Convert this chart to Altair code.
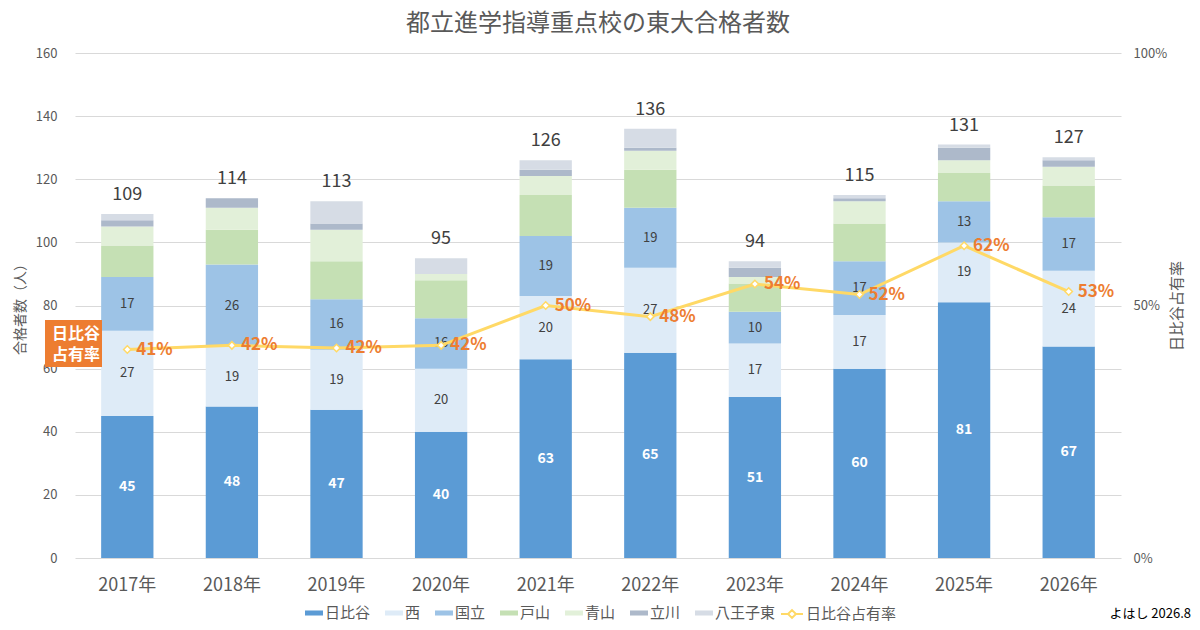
import altair as alt
import pandas as pd

FONT = "Noto Sans CJK JP"

years = ["2017年", "2018年", "2019年", "2020年", "2021年",
         "2022年", "2023年", "2024年", "2025年", "2026年"]
schools = ["日比谷", "西", "国立", "戸山", "青山", "立川", "八王子東"]
school_colors = ["#5B9BD5", "#DEEBF7", "#9DC3E6", "#C5E0B4",
                 "#E2F0D9", "#ADB9CA", "#D6DCE5"]

hibiya = [45, 48, 47, 40, 63, 65, 51, 60, 81, 67]
nishi = [27, 19, 19, 20, 20, 27, 17, 17, 19, 24]
kunitachi = [17, 26, 16, 16, 19, 19, 10, 17, 13, 17]
toyama = [10, 11, 12, 12, 13, 12, 9, 12, 9, 10]
aoyama = [6, 7, 10, 2, 6, 6, 2, 7, 4, 6]
tachikawa = [2, 3, 2, 0, 2, 1, 3, 1, 4, 2]
hachioji = [2, 0, 7, 5, 3, 6, 2, 1, 1, 1]

series = [hibiya, nishi, kunitachi, toyama, aoyama, tachikawa, hachioji]
ratio_name = "日比谷占有率"

rows = []
for i, yr in enumerate(years):
    for j, (s, arr) in enumerate(zip(schools, series)):
        rows.append({"year": yr, "school": s, "idx": j, "value": arr[i]})
df = pd.DataFrame(rows)

totals = [sum(arr[i] for arr in series) for i in range(len(years))]
tot_df = pd.DataFrame({"year": years, "total": totals})
ratio_df = pd.DataFrame({
    "year": years,
    "ratio": [h / t for h, t in zip(hibiya, totals)],
    "series": ratio_name,
})

GRAY = "#595959"
DARK = "#404040"

x_enc = alt.X(
    "year:N", sort=years,
    scale=alt.Scale(paddingInner=0.5, paddingOuter=0.25),
    axis=alt.Axis(title=None, labelFontSize=18, labelColor=GRAY, labelFont=FONT,
                  labelPadding=18, domain=False, ticks=False, labelAngle=0),
)

left_scale = alt.Scale(domain=[0, 160])
left_axis = alt.Axis(title="合格者数（人）", values=list(range(0, 161, 20)),
                     labelFontSize=13, labelColor=GRAY, labelFont=FONT,
                     labelPadding=18, titleFontSize=14, titleColor=GRAY,
                     titleFont=FONT, titleFontWeight="normal", titlePadding=8,
                     domain=False, ticks=False, grid=True,
                     gridColor="#D9D9D9", gridWidth=1)

right_scale = alt.Scale(domain=[0, 1])
right_axis = alt.Axis(orient="right", format="%", values=[0, 0.5, 1],
                      title=ratio_name, titleAngle=270, labelFontSize=13,
                      labelColor=GRAY, labelFont=FONT, labelPadding=12,
                      titleFontSize=15, titleColor=GRAY, titleFont=FONT,
                      titleFontWeight="normal", titlePadding=18,
                      domain=False, ticks=False, grid=False)

bars = alt.Chart(df).mark_bar().encode(
    x=x_enc,
    y=alt.Y("value:Q", stack="zero", scale=left_scale, axis=left_axis),
    color=alt.Color("school:N", scale=alt.Scale(domain=schools, range=school_colors),
                    legend=alt.Legend(title=None, orient="none", direction="horizontal",
                                      legendX=230, legendY=551,
                                      symbolType="M-1,-0.28H1V0.28H-1Z", symbolSize=324,
                                      symbolStrokeWidth=0, labelFontSize=15,
                                      labelColor=GRAY, labelFont=FONT, labelOffset=2,
                                      columnPadding=14, padding=0)),
    order=alt.Order("idx:Q", sort="ascending"),
)

seg = alt.Chart(df).transform_stack(
    stack="value", groupby=["year"], sort=[alt.SortField("idx", order="ascending")],
    as_=["v0", "v1"],
).transform_calculate(mid="(datum.v0 + datum.v1) / 2")

seg_white = seg.transform_filter("datum.idx == 0").mark_text(
    color="white", fontWeight="bold", fontSize=14, font=FONT, baseline="middle",
).encode(x=x_enc, y=alt.Y("mid:Q", scale=left_scale, axis=left_axis), text="value:Q")

seg_dark = seg.transform_filter("datum.idx == 1 || datum.idx == 2").mark_text(
    color=DARK, fontSize=13, font=FONT, baseline="middle",
).encode(x=x_enc, y=alt.Y("mid:Q", scale=left_scale, axis=left_axis), text="value:Q")

tot_text = alt.Chart(tot_df).mark_text(
    color=DARK, fontSize=18, font=FONT, baseline="bottom", dy=-10,
).encode(x=x_enc, y=alt.Y("total:Q", scale=left_scale, axis=left_axis), text="total:Q")

one = pd.DataFrame({"k": [0]})
box = alt.Chart(one).mark_rect(color="#ED7D31").encode(
    x=alt.value(-30), x2=alt.value(27), y=alt.value(267), y2=alt.value(314))
box_t1 = alt.Chart(one).mark_text(
    text="日比谷", color="white", fontSize=16, fontWeight="bold", font=FONT,
    baseline="middle").encode(x=alt.value(1), y=alt.value(281))
box_t2 = alt.Chart(one).mark_text(
    text="占有率", color="white", fontSize=16, fontWeight="bold", font=FONT,
    baseline="middle").encode(x=alt.value(1), y=alt.value(302))
credit = alt.Chart(one).mark_text(
    text="よはし 2026.8", color="#000000", fontSize=13, font=FONT, align="right",
    baseline="middle").encode(x=alt.value(1116), y=alt.value(561))

left = alt.layer(bars, seg_white, seg_dark, tot_text, box, box_t1, box_t2, credit)

line = alt.Chart(ratio_df).mark_line(strokeWidth=3).encode(
    x=x_enc,
    y=alt.Y("ratio:Q", scale=right_scale, axis=right_axis),
    stroke=alt.Stroke("series:N", scale=alt.Scale(domain=[ratio_name], range=["#FFD966"]),
                      legend=alt.Legend(title=None, orient="none", legendX=705, legendY=549,
                                        symbolType="M-1,0H-0.36M0.36,0H1M-0.36,0L0,-0.36L0.36,0L0,0.36Z",
                                        symbolSize=484, symbolStrokeWidth=2,
                                        labelFontSize=15, labelColor=GRAY, labelFont=FONT,
                                        labelOffset=2, padding=0)),
)
pts = alt.Chart(ratio_df).mark_point(
    shape="diamond", filled=True, fill="white", stroke="#FFD966", strokeWidth=1.5,
    size=55, opacity=1,
).encode(x=x_enc, y=alt.Y("ratio:Q", scale=right_scale, axis=right_axis))
pct = alt.Chart(ratio_df).mark_text(
    color="#ED7D31", fontSize=17, fontWeight="bold", font=FONT, align="left",
    baseline="middle", dx=9,
).encode(x=x_enc, y=alt.Y("ratio:Q", scale=right_scale, axis=right_axis),
         text=alt.Text("ratio:Q", format=".0%"))

right = alt.layer(line, pts, pct)

chart = alt.layer(left, right).resolve_scale(
    y="independent", color="independent"
).properties(
    width=1046, height=505,
    autosize=alt.AutoSizeParams(type="none"),
    padding={"left": 67, "top": 45, "right": 70, "bottom": 64},
    background="white",
    title=alt.Title("都立進学指導重点校の東大合格者数", fontSize=24, color=GRAY,
                    font=FONT, fontWeight="normal", frame="group", anchor="middle",
                    offset=11),
).configure_view(stroke=None)

chart.save("out.html", embed_options={"renderer": "svg", "actions": False})
